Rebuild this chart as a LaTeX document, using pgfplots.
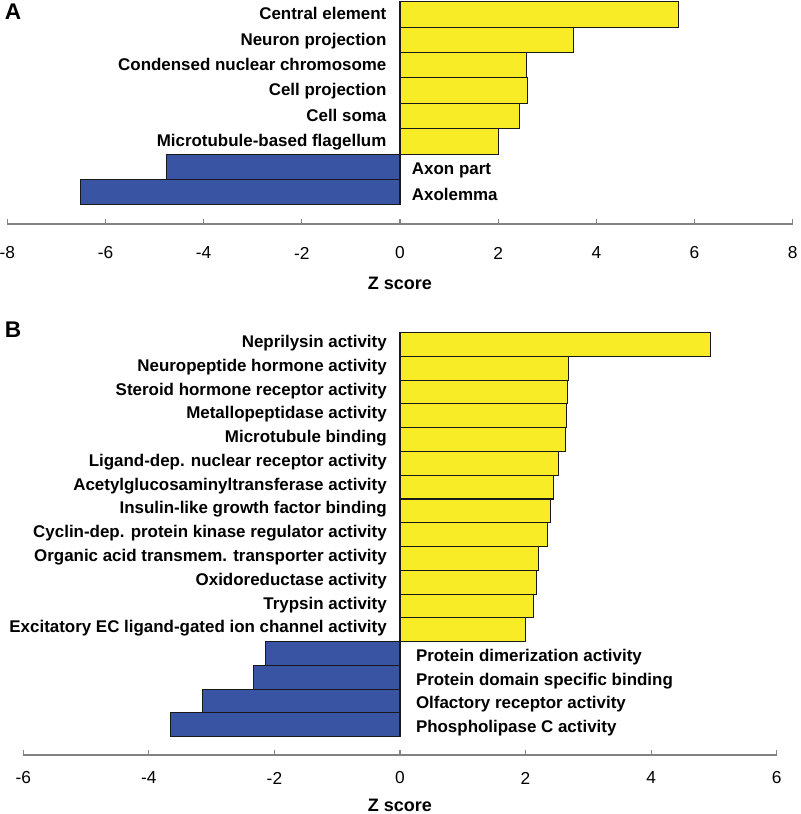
\documentclass[border=0pt]{standalone}
\usepackage{fontspec}
\setmainfont{Liberation Sans}
\usepackage{pgfplots}
\pgfplotsset{compat=1.18}

\definecolor{barYellow}{RGB}{247,236,38}
\definecolor{barBlue}{RGB}{58,84,164}
\definecolor{axisGray}{RGB}{130,130,130}

\pgfplotsset{
  zpanel/.style={
    scale only axis,
    axis x line*=bottom,
    axis y line=none,
    tick align=inside,
    major tick length=4pt,
    x axis line style={draw=axisGray, line width=0.8pt},
    every tick/.style={draw=axisGray, line width=0.8pt},
    clip=false,
    xlabel={Z score},
    xlabel style={font=\fontsize{13.5}{16}\selectfont\bfseries,
      at={(axis description cs:0.5,0)}, anchor=center},
    xticklabel style={font=\fontsize{13}{15}\selectfont, anchor=center},
  },
  zbar/.style={xbar, bar width=1, bar shift=0pt, draw=black!90, line width=0.8pt},
  zlab/.style={only marks, mark=*, mark size=0pt, mark options={draw=none, fill=none},
    point meta=explicit symbolic, nodes near coords={\pgfplotspointmeta},
    nodes near coords style={inner sep=0pt, text=black,
      font=\fontsize{12.7}{15}\selectfont\bfseries}},
}

\begin{document}
\begin{tikzpicture}
\useasboundingbox (0,0) rectangle (600pt,610.5pt);

% panel A
\begin{axis}[zpanel,
  at={(5.5pt,442.5pt)}, anchor=south west,
  width=589pt, height=168pt,
  xmin=-8, xmax=8, ymin=-0.25, ymax=8.567,
  xtick={-8,-6,-4,-2,0,2,4,6,8},
  xticklabels={-8,-6,-4,-2,0,2,4,6,8},
  xticklabel style={yshift=-21.75pt},
  xlabel style={yshift=-44.25pt},
]
\addplot[zbar, fill=barYellow] coordinates {
  (5.67,8) (3.54,7) (2.58,6) (2.59,5) (2.44,4) (2.00,3)};
\addplot[zbar, fill=barBlue] coordinates {
  (-4.75,2) (-6.50,1)};
\addplot[zlab, nodes near coords style={anchor=base east, xshift=-10pt, yshift=-3.9pt}]
  coordinates {
  (0,8) [Central element]
  (0,7) [Neuron projection]
  (0,6) [Condensed nuclear chromosome]
  (0,5) [Cell projection]
  (0,4) [Cell soma]
  (0,3) [Microtubule-based flagellum]};
\addplot[zlab, nodes near coords style={anchor=base west, xshift=8.8pt, yshift=-6pt}]
  coordinates {
  (0,2) [Axon part]
  (0,1) [Axolemma]};
\end{axis}

% panel B
\begin{axis}[zpanel,
  at={(17.5pt,44.25pt)}, anchor=south west,
  width=565pt, height=318.75pt,
  xmin=-6, xmax=6, ymin=-0.27, ymax=17.61,
  xtick={-6,-4,-2,0,2,4,6},
  xticklabels={-6,-4,-2,0,2,4,6},
  xticklabel style={yshift=-17.25pt},
  xlabel style={yshift=-37.5pt},
]
\addplot[zbar, fill=barYellow] coordinates {
  (4.95,17) (2.68,16) (2.67,15) (2.65,14) (2.64,13) (2.52,12) (2.45,11)
  (2.39,10) (2.35,9) (2.21,8) (2.17,7) (2.13,6) (2.00,5)};
\addplot[zbar, fill=barBlue] coordinates {
  (-2.14,4) (-2.33,3) (-3.15,2) (-3.65,1)};
\addplot[zlab, nodes near coords style={anchor=base east, xshift=-9.75pt, yshift=-2.3pt}]
  coordinates {
  (0,17) [Neprilysin activity]
  (0,16) [Neuropeptide hormone activity]
  (0,15) [Steroid hormone receptor activity]
  (0,14) [Metallopeptidase activity]
  (0,13) [Microtubule binding]
  (0,12) [Ligand-dep. nuclear receptor activity]
  (0,11) [Acetylglucosaminyltransferase activity]
  (0,10) [Insulin-like growth factor binding]
  (0,9) [Cyclin-dep. protein kinase regulator activity]
  (0,8) [Organic acid transmem. transporter activity]
  (0,7) [Oxidoreductase activity]
  (0,6) [Trypsin activity]
  (0,5) [Excitatory EC ligand-gated ion channel activity]};
\addplot[zlab, nodes near coords style={anchor=base west, xshift=11.8pt, yshift=-5.8pt}]
  coordinates {
  (0,4) [Protein dimerization activity]
  (0,3) [Protein domain specific binding]
  (0,2) [Olfactory receptor activity]
  (0,1) [Phospholipase C activity]};
\end{axis}

\node[font=\fontsize{17}{20}\selectfont\bfseries, anchor=base west, inner sep=0pt]
  at (3.5pt,595.5pt) {A};
\node[font=\fontsize{17}{20}\selectfont\bfseries, anchor=base west, inner sep=0pt]
  at (3.5pt,357pt) {B};
\end{tikzpicture}
\end{document}
